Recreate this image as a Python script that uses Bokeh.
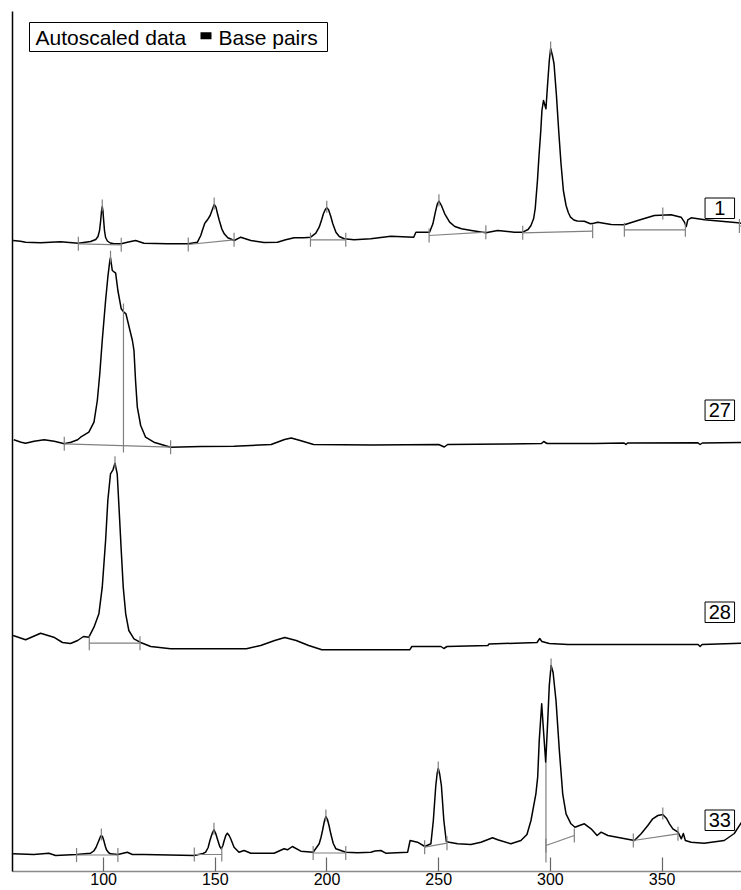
from bokeh.plotting import figure
from bokeh.models import Range1d, FixedTicker
from bokeh.embed import file_html
from bokeh.resources import INLINE
from bokeh.core.properties import value

# ---------------- data (base pairs, autoscaled signal) ----------------
samples = ["1", "27", "28", "33"]

s1_bp = [59.5, 62.8, 65.1, 71.8, 80.7, 88.7, 94.2, 96.5, 97.5, 98.2, 98.7, 99.1, 99.4, 99.7, 100.0,
         100.4, 100.9, 101.7, 103.0, 104.6, 107.9, 110.6, 114.3, 118.1, 128.5, 137.9, 142.0, 143.5,
         144.2, 145.3, 146.5, 147.7, 148.8, 149.5, 150.3, 151.0, 151.8, 152.9, 154.0, 155.6, 158.5,
         161.4, 165.9, 171.8, 177.8, 181.5, 185.3, 189.7, 192.7, 195.0, 196.5, 197.6, 198.4, 199.2,
         199.9, 200.7, 201.7, 202.6, 204.0, 205.5, 207.7, 212.1, 219.6, 228.6, 238.8, 239.8, 245.9,
         247.4, 248.5, 249.4, 250.1, 251.2, 252.7, 254.9, 257.2, 260.2, 264.6, 271.1, 276.4, 283.8,
         287.6, 290.0, 291.3, 292.5, 293.2, 294.2, 294.9, 295.7, 296.2, 296.9, 298.0, 298.7, 299.5,
         300.1, 300.9, 301.6, 302.7, 303.7, 304.7, 305.8, 307.0, 308.0, 309.0, 310.5, 312.0, 315.2,
         317.9, 319.4, 321.2, 327.2, 333.1, 339.1, 346.5, 354.0, 358.5, 360.0, 360.8, 361.5, 363.0,
         369.0, 383.9, 385.8]
s1_sig = [5, 4.3, 3.3, 2.7, 3.7, 2.3, 4, 6, 9, 15, 25, 35, 39, 35, 26,
          15, 8, 4.5, 2.5, 1.7, 1.7, 3.3, 5, 2.3, 1.7, 1.7, 3.3, 10,
          15, 22.3, 25.7, 30, 36.7, 41, 38.3, 31.7, 25, 16.7, 11.7, 7.7, 5,
          8.3, 5, 3, 3.3, 5.7, 7.7, 7.7, 8.3, 12.3, 18.3, 25.7, 31.7, 35.7,
          37.7, 35.7, 29, 21.7, 13.3, 9, 6.7, 5.7, 6.7, 9.3, 8.3, 13.3, 13.3,
          21.7, 33.3, 41.7, 44.3, 40, 31.7, 23.3, 19, 16.7, 15, 12.7, 15, 13.3,
          13.3, 16, 20, 27, 37, 65, 90, 115, 135, 145, 136.7, 160, 185,
          197, 190, 182, 150, 115, 83, 55, 40, 33, 28.3, 25.5, 24.5, 24.3,
          21.7, 22.3, 23.3, 21, 20.7, 25, 30, 30.7, 28.3, 23.3, 19, 25.7, 27.7,
          25.7, 22.7, 22]

s27_bp = [59.8, 63.1, 65.1, 68.9, 73.4, 77.9, 82.4, 85.4, 88.4, 89.7, 93.4, 95.7, 97.2, 98.3, 99.4,
          100.9, 101.9, 102.8, 103.1, 103.9, 105.4, 106.4, 107.9, 109.1, 110.0, 112.9, 113.6, 114.3,
          115.1, 116.6, 118.8, 122.5, 130.0, 143.5, 158.4, 165.9, 175.0, 181.0, 184.0, 188.0, 194.0,
          220.0, 250.0, 252.5, 254.0, 280.0, 296.0, 297.0, 298.5, 320.0, 333.0, 333.8, 334.5, 366.0,
          367.0, 368.0, 385.8]
s27_sig = [7.7, 5.3, 4.3, 6.3, 7.7, 6.3, 3.7, 5.3, 7.7, 10.3, 15.3, 25.3, 47, 73.7, 107,
           147, 170.3, 187, 189.7, 177, 174.3, 157, 138.7, 135.3, 133.7, 107, 97, 67,
           40.3, 22, 10.3, 5.3, 0.3, 1, 1.3, 2, 3, 8, 9.5, 7, 3,
           2.5, 3, 0.5, 3, 3.5, 4, 6, 4, 4, 4.5, 3, 4.5, 4.7,
           3, 4.5, 5]

s28_bp = [59.5, 65.1, 71.8, 77.7, 81.6, 85.2, 88.4, 91.0, 93.4, 95.7, 97.9, 99.4, 100.9, 101.9, 103.1,
          104.2, 105.1, 106.1, 106.9, 107.9, 108.8, 109.9, 111.3, 113.6, 116.3, 121.1, 130.0, 163.9,
          170.3, 176.6, 181.1, 186.2, 191.8, 197.7, 237.0, 238.0, 251.0, 252.3, 253.7, 272.0, 272.5,
          294.0, 295.2, 296.2, 299.5, 307.9, 366.1, 367.0, 367.9, 385.8]
s28_sig = [14, 9.7, 16.3, 12.3, 7, 6, 9, 13, 12.3, 22.3, 35.7, 62.3, 109, 149, 175.7,
           179.7, 186.3, 175.7, 142.3, 99, 62.3, 35.7, 19, 10.7, 7.3, 3, 0.7, 0.7,
           4, 9, 12, 9, 4, -0.3, -0.3, 3, 3, 1, 3, 4, 5.5,
           7, 11, 8, 6, 5, 5, 3, 5, 6.3]

s33_bp = [59.5, 68.8, 75.5, 78.5, 87.9, 94.2, 95.6, 96.6, 97.9, 98.6, 99.0, 99.5, 100.1, 100.8, 101.3,
          102.2, 103.1, 106.4, 110.6, 112.9, 118.1, 140.6, 144.5, 145.7, 146.8, 147.6, 148.6, 149.4,
          150.2, 150.9, 152.0, 152.7, 153.4, 153.9, 154.7, 155.4, 156.2, 156.9, 158.4, 160.6, 162.9,
          165.9, 176.3, 180.8, 182.3, 184.5, 188.3, 193.8, 196.5, 197.3, 198.0, 198.8, 199.5, 200.2,
          200.9, 201.7, 202.8, 204.0, 208.4, 213.7, 219.6, 221.5, 224.1, 226.3, 236.1, 237.2, 240.5,
          243.8, 246.5, 247.6, 248.7, 249.3, 249.8, 250.4, 251.2, 252.3, 253.4, 254.7, 258.5, 264.4,
          268.9, 274.1, 276.4, 282.3, 286.8, 289.5, 291.3, 293.5, 294.3, 295.0, 296.1, 297.0, 297.9,
          298.8, 299.5, 300.3, 301.2, 302.5, 304.0, 305.5, 307.0, 309.2, 311.0, 313.0, 315.2, 318.2,
          320.9, 322.7, 325.7, 337.6, 340.6, 343.6, 345.8, 348.1, 350.3, 352.0, 353.3, 354.8, 357.1,
          358.6, 359.5, 360.4, 363.0, 368.8, 377.8, 382.3, 385.8]
s33_sig = [3.7, 3, 4.3, 2, 3, 4.3, 6.5, 10, 17, 21, 22, 21, 17, 11, 7.7,
           5, 3.7, 3, 5.3, 3, 3, 2, 4, 5.3, 10, 17, 24, 27.7,
           24, 18.7, 11, 8.7, 12, 16.3, 22, 24.3, 22, 18.7, 10.3, 5.3, 7,
           4.3, 4.3, 8.7, 7.7, 11, 6.3, 5.3, 13.7, 20, 27, 36, 41, 38,
           32, 23.7, 14, 8.7, 5.3, 4.7, 5.3, 6.5, 7, 4.3, 5.3, 17, 15.3,
           11, 13.7, 37, 72, 84, 89, 84, 72, 37, 16, 15.3, 13.7, 13,
           15.3, 19.7, 17.7, 13.7, 17, 23, 37, 63.7, 80.3, 117, 153.7, 123.7, 95.3,
           137, 172, 192, 185, 157, 107, 63.7, 43.7, 33.7, 30.3, 32, 33.7, 28.7,
           22, 25.3, 22, 17, 23.7, 32, 38.7, 42, 43, 39, 33.7, 28.7, 25.3,
           18.7, 24, 17, 15.3, 14.3, 17, 24, 36]

# integration baselines: start bp, end bp, start level, end level
s1_base_x0 = [88.7, 137.9, 192.6, 245.7, 287.6, 333.1, 384.6]
s1_base_x1 = [107.9, 158.4, 208.4, 271.1, 318.9, 360.4, 392.0]
s1_base_y0 = [1.7, 1.0, 5.7, 10.0, 12.7, 15.7, 19.5]
s1_base_y1 = [0.7, 5.7, 5.7, 13.3, 14.3, 15.7, 19.5]
s27_base_x0 = [82.4]
s27_base_x1 = [130.0]
s27_base_y0 = [3.7]
s27_base_y1 = [0.3]
s28_base_x0 = [93.6]
s28_base_x1 = [116.3]
s28_base_y0 = [6.3]
s28_base_y1 = [6.3]
s33_base_x0 = [87.9, 140.6, 193.8, 243.7, 298.0, 337.1]
s33_base_x1 = [106.4, 152.9, 208.4, 253.7, 310.7, 357.1]
s33_base_y0 = [2.5, 3.0, 4.5, 10.3, 12.0, 17.0]
s33_base_y1 = [2.5, 3.0, 4.5, 14.3, 22.0, 23.7]

# called peaks (bp, height)
s1_peak_bp = [99.4, 149.5, 199.9, 250.1, 300.1, 350.3]
s1_peak_h = [39, 41, 37.7, 44.3, 197, 31]
s27_peak_bp = [103.1]
s27_peak_h = [189.7]
s28_peak_bp = [105.1]
s28_peak_h = [186.3]
s33_peak_bp = [99.0, 149.4, 199.5, 249.8, 300.3, 350.3]
s33_peak_h = [22, 27.7, 41, 89, 192, 43]

# peak split (drop) lines: bp, top level
s27_drop_bp = [108.9]
s27_drop_top = [144]
s33_drop_bp = [298.0]
s33_drop_top = [95]

x_ticks = [100, 150, 200, 250, 300, 350]
legend_text = ["Autoscaled data", "Base pairs"]

# ---------------- layout ----------------
FONT = "Liberation Sans"
X0, X1 = 59.23, 385.53
FL, FR, FT, FB = 12, 741, 11, 871          # frame edges in page pixels


def dx(px):
    return X0 + (px - FL) * (X1 - X0) / (FR - FL)


def dy(py):
    return FB - py


offsets = {"1": 626, "27": 424, "28": 222, "33": 14}
traces = {"1": (s1_bp, s1_sig), "27": (s27_bp, s27_sig), "28": (s28_bp, s28_sig), "33": (s33_bp, s33_sig)}
bases = {"1": (s1_base_x0, s1_base_x1, s1_base_y0, s1_base_y1),
         "27": (s27_base_x0, s27_base_x1, s27_base_y0, s27_base_y1),
         "28": (s28_base_x0, s28_base_x1, s28_base_y0, s28_base_y1),
         "33": (s33_base_x0, s33_base_x1, s33_base_y0, s33_base_y1)}
peaks = {"1": (s1_peak_bp, s1_peak_h), "27": (s27_peak_bp, s27_peak_h),
         "28": (s28_peak_bp, s28_peak_h), "33": (s33_peak_bp, s33_peak_h)}
drops = {"27": (s27_drop_bp, s27_drop_top), "33": (s33_drop_bp, s33_drop_top)}

p = figure(width=741, height=890, output_backend="svg", toolbar_location=None,
           x_range=Range1d(X0, X1), y_range=Range1d(0, FB - FT),
           min_border_left=FL, min_border_right=0, min_border_top=FT, min_border_bottom=890 - FB)
p.outline_line_color = None
p.xgrid.visible = False
p.ygrid.visible = False
p.background_fill_color = "white"

xa = p.xaxis[0]
xa.ticker = FixedTicker(ticks=x_ticks)
xa.major_tick_in = 14
xa.major_tick_out = 0
xa.minor_tick_in = 0
xa.minor_tick_out = 0
xa.major_label_standoff = 1
xa.major_label_text_font = FONT
xa.major_label_text_font_size = "16px"
xa.major_label_text_color = "black"
xa.axis_line_color = "#8a8a8a"
xa.axis_line_width = 1.5
xa.major_tick_line_color = "#666666"
xa.major_tick_line_width = 1.2

ya = p.yaxis[0]
ya.ticker = FixedTicker(ticks=[])
ya.major_tick_in = 0
ya.major_tick_out = 0
ya.minor_tick_in = 0
ya.minor_tick_out = 0
ya.major_label_standoff = 0
ya.major_label_text_font_size = "0px"
ya.axis_line_color = "black"
ya.axis_line_width = 1.5

GRAY = "#808080"
TICK = 7
for s in samples:
    off = offsets[s]
    bx, sy = traces[s]
    p.line(bx, [v + off for v in sy], line_color="black", line_width=1.5, line_join="round")
    x0, x1, y0, y1 = bases[s]
    p.segment(x0, [v + off for v in y0], x1, [v + off for v in y1], line_color=GRAY, line_width=1.2)
    tx = list(x0) + list(x1)
    tyl = list(y0) + list(y1)
    p.segment(tx, [v + off - TICK for v in tyl], tx, [v + off + TICK for v in tyl],
              line_color=GRAY, line_width=1.2)
    pb, ph = peaks[s]
    p.segment(pb, [v + off - 5 for v in ph], pb, [v + off + 7 for v in ph], line_color=GRAY, line_width=1.2)
    if s in drops:
        db, dt = drops[s]
        p.segment(db, [v + off for v in dt], db, [off - 5 for _ in dt], line_color=GRAY, line_width=1.2)

# sample boxes
box_cx = [dx(719.3)] * len(samples)
box_cy = [offsets[s] + 27 + 10.25 for s in samples]
p.rect(box_cx, box_cy, width=29.5, height=20.5, width_units="screen", height_units="screen",
       fill_color="white", line_color="black", line_width=1)
p.text(box_cx, box_cy, text=samples, text_font=value(FONT),
       text_font_size="20px", text_align="center", text_baseline="middle", text_color="black")

# legend
p.rect([dx(178)], [dy(36.5)], width=298, height=29, width_units="screen", height_units="screen",
       fill_color="white", line_color="black", line_width=1)
p.text([dx(35), dx(218)], [dy(36.5), dy(36.5)], text=legend_text, text_font=value(FONT),
       text_font_size="21px", text_align="left", text_baseline="middle", text_color="black")
p.rect([dx(205.5)], [dy(35.3)], width=11, height=7, width_units="screen", height_units="screen",
       fill_color="black", line_color=None)

open("out.html", "w").write(file_html(p, INLINE))
